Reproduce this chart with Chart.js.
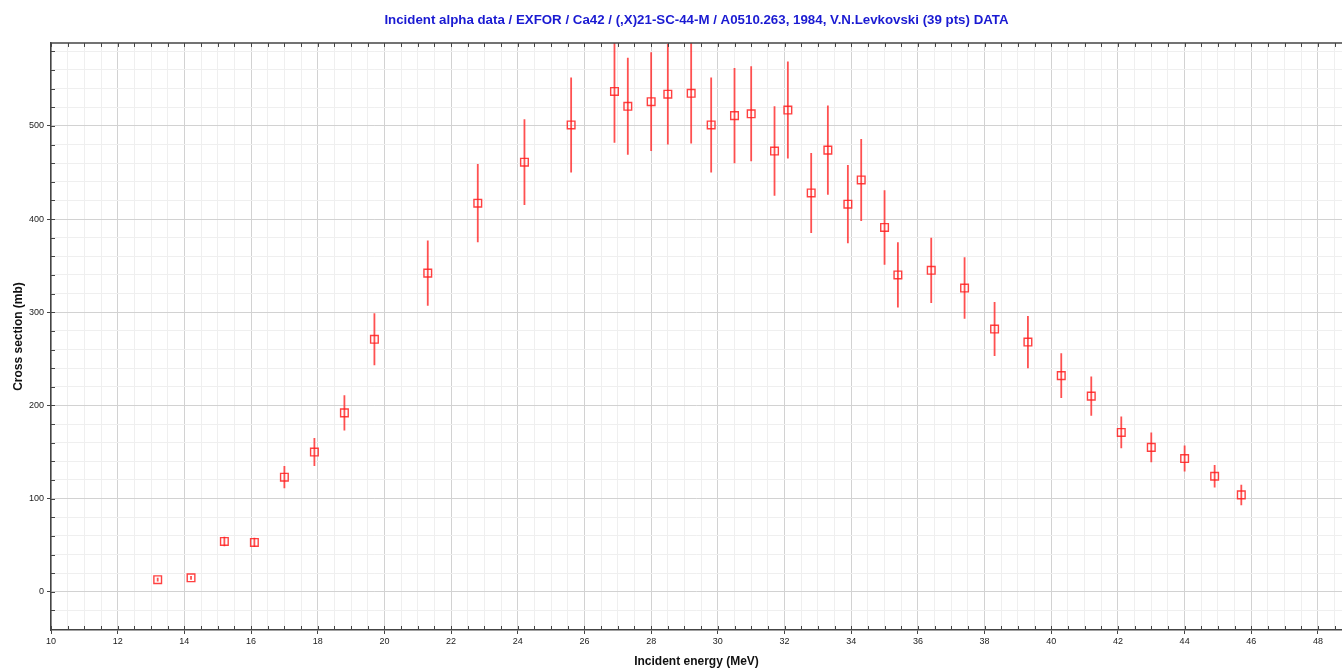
<!DOCTYPE html>
<html><head><meta charset="utf-8">
<script src="https://cdn.jsdelivr.net/npm/chart.js@4.4.0/dist/chart.umd.min.js"></script>
<style>html,body{margin:0;padding:0;background:#fff;overflow:hidden}#wrap{width:1342px;height:670px;position:relative}</style>
</head><body><div id="wrap"><canvas id="c" width="1342" height="670"></canvas></div>
<script>
const titleText = "Incident alpha data / EXFOR / Ca42 / (,X)21-SC-44-M / A0510.263, 1984, V.N.Levkovski (39 pts) DATA";
const xAxisTitle = "Incident energy (MeV)";
const yAxisTitle = "Cross section (mb)";
const energy = [13.2,14.2,15.2,16.1,17.0,17.9,18.8,19.7,21.3,22.8,24.2,25.6,26.9,27.3,28.0,28.5,29.2,29.8,30.5,31.0,31.7,32.1,32.8,33.3,33.9,34.3,35.0,35.4,36.4,37.4,38.3,39.3,40.3,41.2,42.1,43.0,44.0,44.9,45.7];
const sigma = [13,15,54,53,123,150,192,271,342,417,461,501,537,521,526,534,535,501,511,513,473,517,428,474,416,442,391,340,345,326,282,268,232,210,171,155,143,124,104];
const sigmaErr = [2,2,5,5,12,15,19,28,35,42,46,51,55,52,53,54,54,51,51,51,48,52,43,48,42,44,40,35,35,33,29,28,24,21,17,16,14,12,11];
const xMajorStep = 2, xMinorStep = 0.5;
const yMajorStep = 100, yMinorStep = 20;

const isMult = (v, s) => Math.abs(v / s - Math.round(v / s)) < 1e-6;

const errorBarPlugin = {
  id: 'errorBars',
  beforeDatasetsDraw(chart) {
    const {ctx, chartArea: a, scales: {x, y}} = chart;
    const pts = chart.data.datasets[0].data;
    ctx.save();
    ctx.beginPath(); ctx.rect(a.left, a.top, a.right - a.left, a.bottom - a.top); ctx.clip();
    ctx.strokeStyle = 'rgba(255,50,50,0.85)'; ctx.lineWidth = 1.8;
    ctx.beginPath();
    pts.forEach(p => {
      const px = x.getPixelForValue(p.x);
      ctx.moveTo(px, y.getPixelForValue(p.yMax));
      ctx.lineTo(px, y.getPixelForValue(p.yMin));
    });
    ctx.stroke();
    ctx.restore();
  }
};

const framePlugin = {
  id: 'frame',
  afterDraw(chart) {
    const {ctx, chartArea: a, scales: {x, y}} = chart;
    ctx.save();
    ctx.strokeStyle = '#444'; ctx.lineWidth = 1.5;
    ctx.beginPath();
    ctx.moveTo(a.left, a.top); ctx.lineTo(a.right, a.top);
    ctx.stroke();
    ctx.lineWidth = 1;
    ctx.beginPath();
    x.ticks.forEach(t => {
      const px = Math.round(x.getPixelForValue(t.value)) + 0.5;
      ctx.moveTo(px, a.bottom); ctx.lineTo(px, a.bottom - 4);
      ctx.moveTo(px, a.top); ctx.lineTo(px, a.top + 4);
    });
    y.ticks.forEach(t => {
      const py = Math.round(y.getPixelForValue(t.value)) + 0.5;
      ctx.moveTo(a.left, py); ctx.lineTo(a.left + 4, py);
    });
    ctx.stroke();
    ctx.restore();
  }
};

new Chart(document.getElementById('c'), {
  type: 'scatter',
  data: {
    datasets: [{
      label: 'DATA',
      data: energy.map((e, i) => ({x: e, y: sigma[i], yMin: sigma[i] - sigmaErr[i], yMax: sigma[i] + sigmaErr[i]})),
      pointStyle: 'rect',
      pointRadius: 5.4,
      pointBorderWidth: 1.4,
      pointBorderColor: 'rgba(255,30,30,0.85)',
      pointBackgroundColor: 'rgba(255,255,255,0)',
      showLine: false
    }]
  },
  options: {
    responsive: false,
    animation: false,
    layout: {autoPadding: false, padding: {left: 0, right: 0, top: 0, bottom: 0}},
    plugins: {
      legend: {display: false},
      tooltip: {enabled: false},
      title: {
        display: true, text: titleText, color: '#1a1ad2', fullSize: false,
        font: {family: 'Liberation Sans, Arial, sans-serif', size: 13.3, weight: 'bold'},
        padding: {top: 12, bottom: 15}
      }
    },
    scales: {
      x: {
        type: 'linear', position: 'bottom', min: 10, max: 48.72,
        afterFit: s => { s.height = 40; s.paddingLeft = 0; s.paddingRight = 0; },
        border: {color: '#444', width: 1.5},
        grid: {
          color: c => isMult(c.tick.value, xMajorStep) ? '#d2d2d2' : '#efefef',
          lineWidth: 1,
          tickLength: 4,
          tickColor: c => isMult(c.tick.value, xMajorStep) ? '#444' : 'rgba(0,0,0,0)'
        },
        ticks: {
          stepSize: xMinorStep, autoSkip: false, includeBounds: false, maxRotation: 0,
          padding: 2, color: '#222',
          font: {family: 'Liberation Sans, Arial, sans-serif', size: 9},
          callback: v => isMult(v, xMajorStep) ? String(v) : ''
        },
        title: {
          display: true, text: xAxisTitle, color: '#111',
          font: {family: 'Liberation Sans, Arial, sans-serif', size: 12, weight: 'bold'},
          padding: {top: 1, bottom: 1}
        }
      },
      y: {
        type: 'linear', position: 'left', min: -41, max: 589,
        afterFit: s => { s.width = 51; s.paddingTop = 0; s.paddingBottom = 0; },
        border: {color: '#444', width: 1.5},
        grid: {
          color: c => isMult(c.tick.value, yMajorStep) ? '#d2d2d2' : '#efefef',
          lineWidth: 1,
          tickLength: 4,
          tickColor: c => isMult(c.tick.value, yMajorStep) ? '#444' : 'rgba(0,0,0,0)'
        },
        ticks: {
          stepSize: yMinorStep, autoSkip: false, includeBounds: false,
          padding: 3, color: '#222',
          font: {family: 'Liberation Sans, Arial, sans-serif', size: 9},
          callback: v => isMult(v, yMajorStep) ? String(v) : ''
        },
        title: {
          display: true, text: yAxisTitle, color: '#111',
          font: {family: 'Liberation Sans, Arial, sans-serif', size: 12, weight: 'bold'},
          padding: {top: 11, bottom: 11}
        }
      }
    }
  },
  plugins: [errorBarPlugin, framePlugin]
});
</script>
</body></html>
